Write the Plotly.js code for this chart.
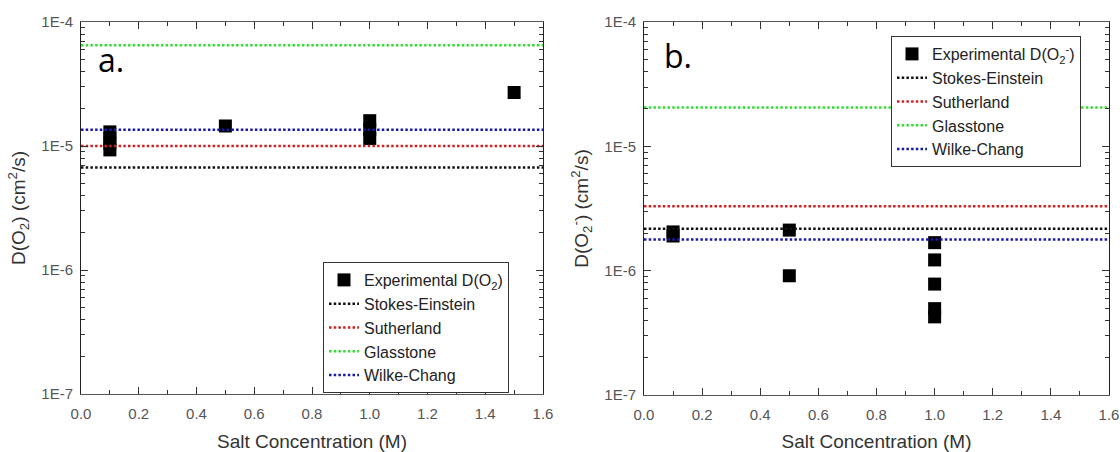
<!DOCTYPE html>
<html>
<head>
<meta charset="utf-8">
<script src="https://cdn.plot.ly/plotly-3.0.1.min.js"></script>
<style>html,body{margin:0;padding:0;background:#fff}#chart{width:1120px;height:452px}</style>
</head>
<body>
<div id="chart"></div>
<script>
// ---- data ----
const xExtent = [0, 1.6];
const modelNames = ["Stokes-Einstein", "Sutherland", "Glasstone", "Wilke-Chang"];
const modelColors = ["#111111", "#d02222", "#33dd33", "#1a1aaa"];
// panel a: D(O2)
const modelsA = [6.7e-6, 1.0e-5, 6.5e-5, 1.35e-5];
const expA_x = [0.1, 0.1, 0.1, 0.1, 0.5, 1.0, 1.0, 1.0, 1.5];
const expA_y = [1.3e-5, 1.15e-5, 1.05e-5, 9.3e-6, 1.45e-5, 1.6e-5, 1.35e-5, 1.15e-5, 2.7e-5];
// panel b: D(O2-)
const modelsB = [2.17e-6, 3.3e-6, 2.05e-5, 1.78e-6];
const expB_x = [0.1, 0.1, 0.5, 0.5, 1.0, 1.0, 1.0, 1.0, 1.0];
const expB_y = [2.05e-6, 1.9e-6, 2.12e-6, 9.1e-7, 1.68e-6, 1.22e-6, 7.8e-7, 4.95e-7, 4.25e-7];
const yTickVals = [1e-7, 1e-6, 1e-5, 1e-4];
const yTickText = ["1E-7", "1E-6", "1E-5", "1E-4"];
const xTickVals = [0, 0.2, 0.4, 0.6, 0.8, 1.0, 1.2, 1.4, 1.6];
const xTickText = ["0.0", "0.2", "0.4", "0.6", "0.8", "1.0", "1.2", "1.4", "1.6"];

// ---- build ----
const minorY = [];
for (let e = -7; e < -4; e++) for (let d = 2; d <= 9; d++) minorY.push(d * Math.pow(10, e));
const minorX = [];
for (let i = 0; i < xTickVals.length - 1; i++) minorX.push((xTickVals[i] + xTickVals[i + 1]) / 2);

function panelTraces(expX, expY, models, xa, ya, legendId, expName) {
  const t = [{
    type: "scatter", mode: "markers", x: expX, y: expY, xaxis: xa, yaxis: ya,
    name: expName, legend: legendId,
    marker: {symbol: "square", size: 13, color: "#000"}
  }];
  models.forEach((v, i) => {
    t.push({
      type: "scatter", mode: "lines", x: xExtent, y: [v, v], xaxis: xa, yaxis: ya,
      name: modelNames[i], legend: legendId,
      line: {color: modelColors[i], width: 2.5, dash: "2.5px,2.2px"}
    });
  });
  return t;
}

const traces = [].concat(
  panelTraces(expA_x, expA_y, modelsA, "x", "y", "legend", "Experimental D(O<sub>2</sub>)"),
  panelTraces(expB_x, expB_y, modelsB, "x2", "y2", "legend2", "Experimental D(O<sub>2</sub><sup>-</sup>)")
);

const FONT = "Liberation Sans, Arial, sans-serif";
function xAxis(domain, anchor) {
  return {
    domain: domain, anchor: anchor, range: xExtent, tickmode: "array",
    tickvals: xTickVals, ticktext: xTickText, ticks: "inside", ticklen: 7, tickwidth: 1,
    tickcolor: "#333", showline: true, linecolor: "#555", linewidth: 1, mirror: "ticks",
    showgrid: false, zeroline: false, ticklabelstandoff: 6,
    tickfont: {family: FONT, size: 15, color: "#555"},
    minor: {tickvals: minorX, ticks: "inside", ticklen: 4, tickcolor: "#333", showgrid: false},
    title: {text: "Salt Concentration (M)", font: {family: FONT, size: 19, color: "#333"}, standoff: 16}
  };
}
function yAxis(domain, anchor, title) {
  return {
    domain: domain, anchor: anchor, type: "log", range: [-7, -4], tickmode: "array",
    tickvals: yTickVals, ticktext: yTickText, ticks: "inside", ticklen: 7, tickwidth: 1,
    tickcolor: "#333", showline: true, linecolor: "#222", linewidth: 1, mirror: "ticks",
    showgrid: false, zeroline: false, ticklabelstandoff: 4,
    tickfont: {family: FONT, size: 15, color: "#555"},
    minor: {tickvals: minorY, ticks: "inside", ticklen: 4, tickcolor: "#333", showgrid: false},
    title: {text: title, font: {family: FONT, size: 19, color: "#333"}, standoff: 10}
  };
}
const legendStyle = {
  bgcolor: "#fff", bordercolor: "#333", borderwidth: 1, xanchor: "left", yanchor: "top",
  font: {family: FONT, size: 16, color: "#222"}, itemwidth: 30, tracegroupgap: 0
};

const layout = {
  width: 1120, height: 452, margin: {l: 0, r: 0, t: 0, b: 0},
  paper_bgcolor: "#fff", plot_bgcolor: "#fff", showlegend: true,
  xaxis: xAxis([81 / 1120, 543 / 1120], "y"),
  yaxis: yAxis([58 / 452, 430 / 452], "x", "D(O<sub>2</sub>) (cm<sup>2</sup>/s)"),
  xaxis2: xAxis([644 / 1120, 1109 / 1120], "y2"),
  yaxis2: yAxis([57 / 452, 430 / 452], "x2", "D(O<sub>2</sub><sup>-</sup>) (cm<sup>2</sup>/s)"),
  legend: Object.assign({}, legendStyle, {x: 323 / 1120, y: (452 - 262) / 452}),
  legend2: Object.assign({}, legendStyle, {x: 891 / 1120, y: (452 - 36) / 452}),
  annotations: [
    {text: "a.", xref: "paper", yref: "paper", x: 96 / 1120, y: (452 - 60) / 452,
     xanchor: "left", yanchor: "middle", showarrow: false,
     font: {family: "Open Sans, Noto Sans, sans-serif", size: 32, color: "#000"}},
    {text: "b.", xref: "paper", yref: "paper", x: 662 / 1120, y: (452 - 56) / 452,
     xanchor: "left", yanchor: "middle", showarrow: false,
     font: {family: "Open Sans, Noto Sans, sans-serif", size: 32, color: "#000"}}
  ]
};

Plotly.newPlot("chart", traces, layout, {displayModeBar: false, staticPlot: true});
</script>
</body>
</html>
